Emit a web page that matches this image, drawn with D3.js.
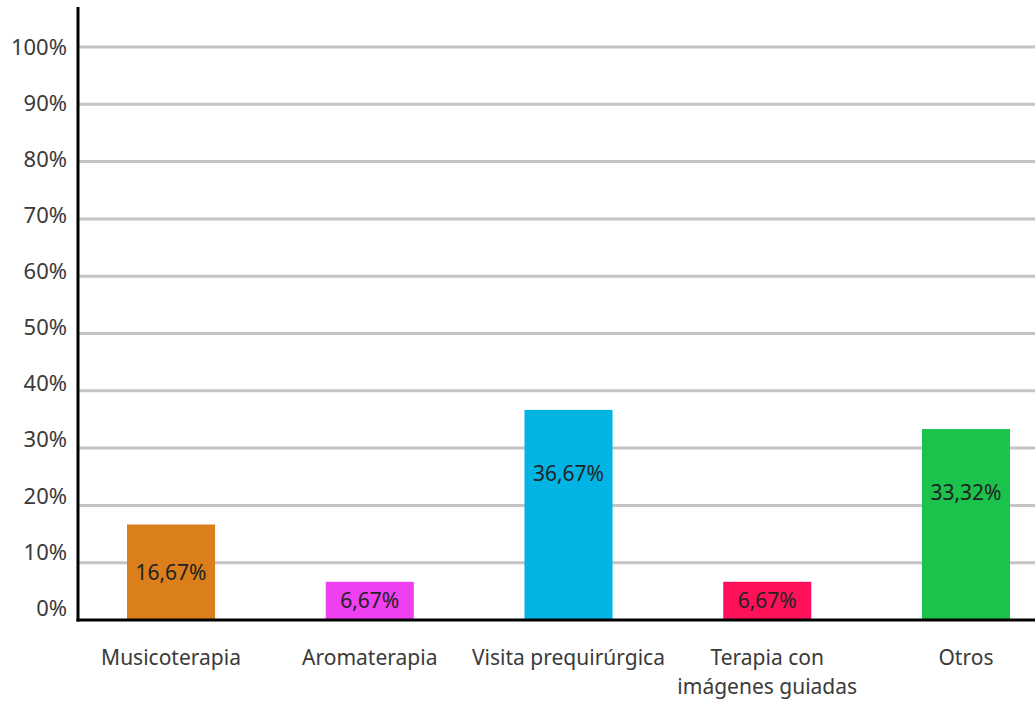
<!DOCTYPE html>
<html>
<head>
<meta charset="utf-8">
<script src="https://cdn.jsdelivr.net/npm/d3@7"></script>
<style>
  body { margin: 0; background: #fff; }
  text { font-family: "Noto Sans", sans-serif; }
</style>
</head>
<body>
<script>
// Técnicas no farmacológicas - porcentaje de uso

var width = 1035;
var height = 702;

var categories = ["Musicoterapia", "Aromaterapia", "Visita prequirúrgica", "Terapia con\nimágenes guiadas", "Otros"];
var values = [16.67, 6.67, 36.67, 6.67, 33.32];
var valueLabels = ["16,67%", "6,67%", "36,67%", "6,67%", "33,32%"];
var colors = ["#da7f1b", "#ee3ff0", "#00b5e3", "#fe1159", "#1bc24b"];
var yTicks = [0, 10, 20, 30, 40, 50, 60, 70, 80, 90, 100];

var axisX = 78;
var axisY = 620;

var xScale = d3.scaleBand()
  .domain(categories)
  .range([127, 1010])
  .paddingInner(0.557)
  .paddingOuter(0);

var yScale = d3.scaleLinear()
  .domain([0, 100])
  .range([axisY, 47]);

// tick labels sit a little higher than their gridlines near the bottom
var yLabelScale = d3.scaleLinear()
  .domain([0, 100])
  .range([608, 47]);

var svg = d3.select("body")
  .append("svg")
  .attr("width", width)
  .attr("height", height);

// gridlines
svg.selectAll("line.grid")
  .data(yTicks.filter(function(d){ return d > 0; }))
  .enter()
  .append("line")
  .attr("class", "grid")
  .attr("x1", axisX)
  .attr("x2", width)
  .attr("y1", function(d){ return yScale(d); })
  .attr("y2", function(d){ return yScale(d); })
  .attr("stroke", "#c4c4c4")
  .attr("stroke-width", 3);

// y tick labels
svg.selectAll("text.ytick")
  .data(yTicks)
  .enter()
  .append("text")
  .attr("class", "ytick")
  .attr("x", 67)
  .attr("y", function(d){ return yLabelScale(d); })
  .attr("dy", "0.35em")
  .attr("text-anchor", "end")
  .attr("font-size", 22)
  .attr("fill", "#3a3a3a")
  .text(function(d){ return d + "%"; });

// bars
svg.selectAll("rect.bar")
  .data(values)
  .enter()
  .append("rect")
  .attr("class", "bar")
  .attr("x", function(d, i){ return xScale(categories[i]); })
  .attr("y", function(d){ return yScale(d); })
  .attr("width", xScale.bandwidth())
  .attr("height", function(d){ return axisY - yScale(d); })
  .attr("fill", function(d, i){ return colors[i]; });

// value labels inside bars
svg.selectAll("text.val")
  .data(values)
  .enter()
  .append("text")
  .attr("class", "val")
  .attr("x", function(d, i){ return xScale(categories[i]) + xScale.bandwidth() / 2; })
  .attr("y", function(d){
    var top = yScale(d);
    return Math.min((top + axisY) / 2, top + 64);
  })
  .attr("dy", "0.35em")
  .attr("text-anchor", "middle")
  .attr("font-size", 21)
  .attr("fill", "#222")
  .text(function(d, i){ return valueLabels[i]; });

// category labels
var catLabels = svg.selectAll("text.cat")
  .data(categories)
  .enter()
  .append("text")
  .attr("class", "cat")
  .attr("x", function(d){ return xScale(d) + xScale.bandwidth() / 2; })
  .attr("y", 658)
  .attr("text-anchor", "middle")
  .attr("font-size", 21)
  .attr("fill", "#3a3a3a");

catLabels.each(function(d){
  var lines = d.split("\n");
  var t = d3.select(this);
  lines.forEach(function(line, j){
    t.append("tspan")
      .attr("x", t.attr("x"))
      .attr("dy", j === 0 ? "0.35em" : 29)
      .text(line);
  });
});

// axes
svg.append("line")
  .attr("x1", axisX)
  .attr("x2", axisX)
  .attr("y1", 7)
  .attr("y2", axisY + 1.5)
  .attr("stroke", "#000")
  .attr("stroke-width", 3);

svg.append("line")
  .attr("x1", axisX - 1.5)
  .attr("x2", width)
  .attr("y1", axisY)
  .attr("y2", axisY)
  .attr("stroke", "#000")
  .attr("stroke-width", 3);
</script>
</body>
</html>
